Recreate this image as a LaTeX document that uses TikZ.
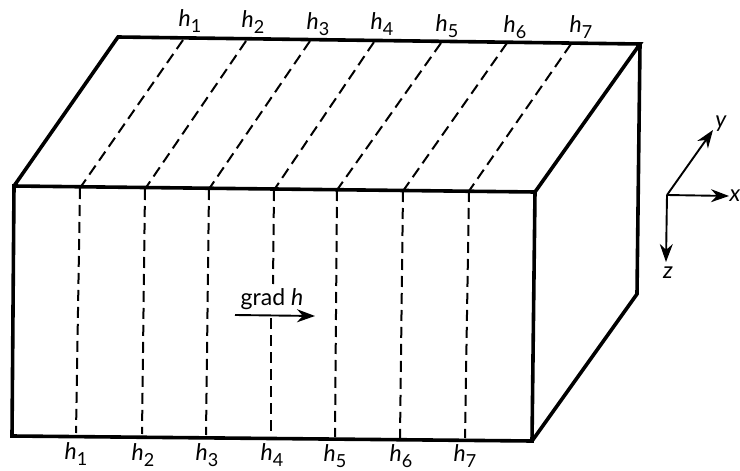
\documentclass[tikz,border=0pt]{standalone}
\usepackage{fontspec}
\setsansfont{Lato}
\usepackage{tikz}
\usetikzlibrary{arrows.meta}
\newcommand{\hlabel}[1]{\textit{h}\raisebox{-0.55ex}{\small #1}}
\tikzset{
    edge/.style={line width=1.8pt, black, line join=miter},
    level/.style={line width=1pt, black, dash pattern=on 5.5pt off 3pt},
    axis/.style={line width=0.95pt, black, -{Stealth[length=9pt,width=6.5pt]}},
    label/.style={black, font=\sffamily\fontsize{11.5}{13}\selectfont, inner sep=0pt}
}

\begin{document}
\begin{tikzpicture}[x=0.5pt, y=-0.5pt]
    \useasboundingbox (0,0) rectangle (740,471);
    \coordinate (ftl) at (14,186);
    \coordinate (ftr) at (535,192);
    \coordinate (fbr) at (532,441);
    \coordinate (fbl) at (12,436);
    \coordinate (btl) at (118,37);
    \coordinate (btr) at (640,44);
    \coordinate (bbr) at (637,294);
    \draw[edge] (ftl) -- (ftr) -- (fbr) -- (fbl) -- cycle;
    \draw[edge] (ftl) -- (btl) -- (btr) -- (ftr);
    \draw[edge] (btr) -- (bbr) -- (fbr);

    \draw[level] (183,40) -- (80,188);
    \draw[level] (246,41) -- (145,189);
    \draw[level] (310,41) -- (209,189);
    \draw[level] (374,42) -- (274,190);
    \draw[level] (441,43) -- (337,190);
    \draw[level] (507,43) -- (403,191);
    \draw[level] (571,44) -- (469,191);

    \draw[level] (80,188) -- (76,433);
    \draw[level] (145,189) -- (142,434);
    \draw[level] (209,189) -- (206,435);
    \draw[level] (274,190) -- (273,284);
    \draw[level] (271,318) -- (271,436);
    \draw[level] (337,190) -- (335,437);
    \draw[level] (403,191) -- (400,438);
    \draw[level] (469,191) -- (465,438);

    \node[label] (t1) at (190,21) {\hlabel{1}};
    \node[label] (t2) at (253,22) {\hlabel{2}};
    \node[label] (t3) at (318,24) {\hlabel{3}};
    \node[label] (t4) at (382,24) {\hlabel{4}};
    \node[label] (t5) at (447,26) {\hlabel{5}};
    \node[label] (t6) at (515,27) {\hlabel{6}};
    \node[label] (t7) at (581,27) {\hlabel{7}};
    \node[label] (b1) at (76,454) {\hlabel{1}};
    \node[label] (b2) at (143,455) {\hlabel{2}};
    \node[label] (b3) at (207,455) {\hlabel{3}};
    \node[label] (b4) at (272,455) {\hlabel{4}};
    \node[label] (b5) at (335,456) {\hlabel{5}};
    \node[label] (b6) at (401,456) {\hlabel{6}};
    \node[label] (b7) at (465,456) {\hlabel{7}};

    \coordinate (gradstart) at (235,315);
    \coordinate (gradend) at (315,316);
    \draw[axis] (gradstart) -- (gradend);
    \node[label] (grad) at (272,299) {grad \textit{h}};

    \coordinate (origin) at (667,195);
    \node[label] (xlabel) at (735,196) {\textit{x}};
    \node[label] (ylabel) at (721,124) {\textit{y}};
    \node[label] (zlabel) at (668,273) {\textit{z}};
    \draw[axis] (origin) -- (729,196);
    \draw[axis] (origin) -- (713,130);
    \draw[axis] (origin) -- (666,262);
\end{tikzpicture}
\end{document}
